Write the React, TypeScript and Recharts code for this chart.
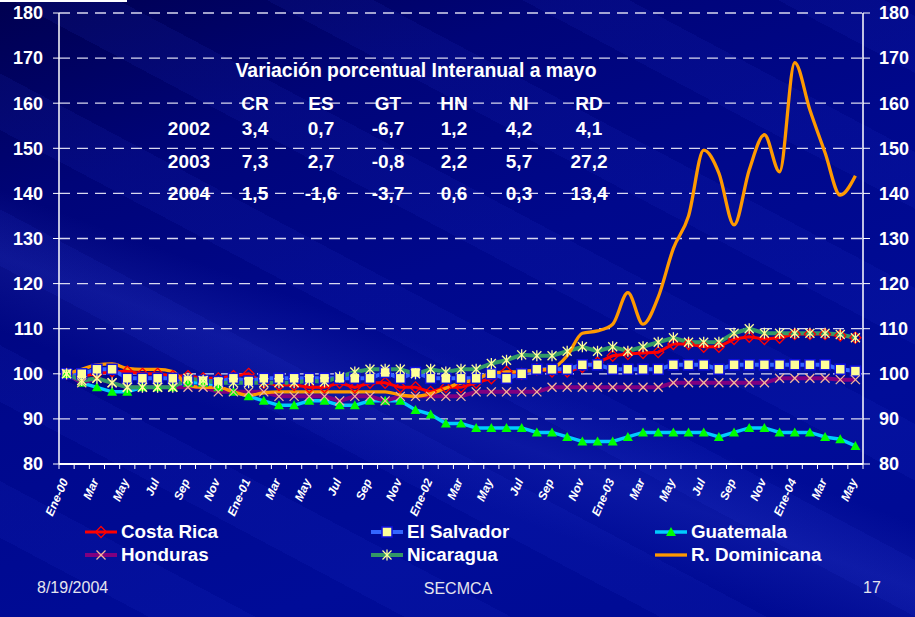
import { LineChart, Line, XAxis, YAxis, CartesianGrid } from 'recharts';

const months = [
  'Ene-00', 'Feb', 'Mar', 'Abr', 'May', 'Jun', 'Jul', 'Ago', 'Sep', 'Oct', 'Nov', 'Dic',
  'Ene-01', 'Feb', 'Mar', 'Abr', 'May', 'Jun', 'Jul', 'Ago', 'Sep', 'Oct', 'Nov', 'Dic',
  'Ene-02', 'Feb', 'Mar', 'Abr', 'May', 'Jun', 'Jul', 'Ago', 'Sep', 'Oct', 'Nov', 'Dic',
  'Ene-03', 'Feb', 'Mar', 'Abr', 'May', 'Jun', 'Jul', 'Ago', 'Sep', 'Oct', 'Nov', 'Dic',
  'Ene-04', 'Feb', 'Mar', 'Abr', 'May',
];

const costaRica = [
  100, 99.5, 100, 100.5, 100.5, 100, 100, 99.5, 99.5, 99, 99, 99.5,
  100, 98, 97.5, 97.5, 97, 97, 98, 97, 98, 98, 97, 97,
  96, 97, 97, 98, 99, 100.5, 100, 101, 100.5, 100.5, 101.5, 102.5,
  104, 104.4, 104.6, 104.8, 106.6, 106.6, 106, 106, 107.7, 108.2, 107.7, 108,
  108.8, 108.8, 108.8, 108.5, 108,
];

const elSalvador = [
  100, 100, 101, 101, 99, 99, 99, 99, 98.5, 98.5, 98.3, 99,
  98.4, 99, 99, 99, 99, 99, 99, 99, 99, 100.3, 99, 100.3,
  99, 99, 99, 99, 100, 99, 100, 101, 101, 101, 102, 102,
  101, 101, 101, 101, 102, 102, 102, 101, 102, 102, 102, 102,
  102, 102, 102, 101, 100.6,
];

const guatemala = [
  100, 98, 97, 96, 96, 97, 97, 97, 98, 98, 97, 96,
  95, 94, 93, 93, 94, 94, 93, 93, 94, 94, 94, 92,
  91, 89, 89, 88, 88, 88, 88, 87, 87, 86, 85, 85,
  85, 86, 87, 87, 87, 87, 87, 86, 87, 88, 88, 87,
  87, 87, 86, 85.5, 84,
];

const honduras = [
  100, 98, 99, 98, 97, 97, 97, 97, 97, 97, 96, 96,
  96, 96, 95, 95, 95, 95, 94, 95, 95, 94, 95, 95,
  95, 95, 95, 96, 96, 96, 96, 96, 97, 97, 97, 97,
  97, 97, 97, 97, 98, 98, 98, 98, 98, 98, 98, 99,
  99, 99, 99, 98.7, 98.7,
];

const nicaragua = [
  100, 98.5, 99, 98, 97, 97, 97, 97, 99, 98.5, 98, 98,
  98, 98, 98, 98, 98.5, 98.2, 99.3, 100.4, 101, 101, 101, 100,
  101, 100.4, 101, 101, 102.3, 103, 104.2, 104, 104, 105, 106, 105,
  106, 105, 106, 107, 108, 107, 107, 107, 109, 110, 109, 109,
  109, 109, 109, 108.7, 108,
];

const rDominicana = [
  100, 101, 102, 102.2, 101.2, 101, 101, 100.5, 97.5, 97, 97, 96,
  95.2, 95.8, 96, 96, 96, 96, 96, 96, 96, 96, 95.3, 95,
  95.6, 96.8, 98, 98.7, 100.2, 100.4, 100.5, 100.8, 101.2, 104, 109, 109.5,
  111, 118, 111, 117, 127.8, 135, 149.6, 144.5, 133, 145.2, 153, 144.8,
  169, 158.5, 149, 139.6, 143.9,
];

const yTicks = [80, 90, 100, 110, 120, 130, 140, 150, 160, 170, 180];

const tableTitle = 'Variación porcentual Interanual a mayo';
const tableCols = ['CR', 'ES', 'GT', 'HN', 'NI', 'RD'];
const tableYears = ['2002', '2003', '2004'];
const tableValues = [
  ['3,4', '0,7', '-6,7', '1,2', '4,2', '4,1'],
  ['7,3', '2,7', '-0,8', '2,2', '5,7', '27,2'],
  ['1,5', '-1,6', '-3,7', '0,6', '0,3', '13,4'],
];

const FONT = '"Liberation Sans", Arial, Helvetica, sans-serif';
const PLOT_W = 804;
const HALF_STEP = PLOT_W / months.length / 2;

type MarkerKind = 'diamond' | 'square' | 'triangle' | 'cross' | 'star' | 'none';

function marker(kind: MarkerKind, cx: number, cy: number) {
  switch (kind) {
    case 'diamond':
      return (
        <polygon
          points={`${cx},${cy - 5.5} ${cx + 5.5},${cy} ${cx},${cy + 5.5} ${cx - 5.5},${cy}`}
          fill="none"
          stroke="#FF0000"
          strokeWidth={1.3}
        />
      );
    case 'square':
      return (
        <rect x={cx - 5} y={cy - 5} width={10} height={10} fill="#FFFF99" stroke="#1010E0" strokeWidth={1.5} />
      );
    case 'triangle':
      return <polygon points={`${cx},${cy - 5} ${cx + 5},${cy + 4} ${cx - 5},${cy + 4}`} fill="#00FF00" />;
    case 'cross':
      return (
        <g stroke="#F4B89A" strokeWidth={1.3}>
          <line x1={cx - 4.5} y1={cy - 4.5} x2={cx + 4.5} y2={cy + 4.5} />
          <line x1={cx - 4.5} y1={cy + 4.5} x2={cx + 4.5} y2={cy - 4.5} />
        </g>
      );
    case 'star':
      return (
        <g stroke="#FFFF99" strokeWidth={1.3}>
          <line x1={cx - 4.5} y1={cy - 4.5} x2={cx + 4.5} y2={cy + 4.5} />
          <line x1={cx - 4.5} y1={cy + 4.5} x2={cx + 4.5} y2={cy - 4.5} />
          <line x1={cx} y1={cy - 5.5} x2={cx} y2={cy + 5.5} />
        </g>
      );
    default:
      return null;
  }
}

const series: { key: string; name: string; color: string; width: number; kind: MarkerKind; values: number[] }[] = [
  { key: 'cr', name: 'Costa Rica', color: '#FF0000', width: 3, kind: 'diamond', values: costaRica },
  { key: 'es', name: 'El Salvador', color: '#3366FF', width: 4, kind: 'square', values: elSalvador },
  { key: 'gt', name: 'Guatemala', color: '#00CCFF', width: 3.5, kind: 'triangle', values: guatemala },
  { key: 'hn', name: 'Honduras', color: '#800080', width: 4, kind: 'cross', values: honduras },
  { key: 'ni', name: 'Nicaragua', color: '#339966', width: 4, kind: 'star', values: nicaragua },
  { key: 'rd', name: 'R. Dominicana', color: '#FF9900', width: 3.3, kind: 'none', values: rDominicana },
];

const data = months.map((m, i) => {
  const row: Record<string, string | number> = { month: m };
  series.forEach((s) => {
    row[s.key] = s.values[i];
  });
  return row;
});

function MonthTick(props: any) {
  const { x, y, payload } = props;
  const i = props.index ?? payload.index;
  const tx = x + 2;
  const ty = y + 17;
  return (
    <g>
      <line x1={x - HALF_STEP} y1={y} x2={x - HALF_STEP} y2={y + 5} stroke="#fff" />
      {i === months.length - 1 && <line x1={x + HALF_STEP} y1={y} x2={x + HALF_STEP} y2={y + 5} stroke="#fff" />}
      {i % 2 === 0 && (
        <text
          x={tx}
          y={ty}
          transform={`rotate(-66, ${tx}, ${ty})`}
          textAnchor="end"
          fill="#fff"
          fontSize={12}
          fontWeight="bold"
          fontStyle="italic"
          fontFamily={FONT}
        >
          {payload.value}
        </text>
      )}
    </g>
  );
}

const legendPos = [
  { x: 85, y: 532 },
  { x: 371, y: 532 },
  { x: 655, y: 532 },
  { x: 85, y: 555 },
  { x: 371, y: 555 },
  { x: 655, y: 555 },
];

const colX = [255, 321, 388, 454, 519, 589];
const rowY = [128, 161, 193];

const textStyle = (x: number, y: number, size: number): React.CSSProperties => ({
  position: 'absolute',
  left: x,
  top: y,
  transform: 'translate(-50%, -50%)',
  color: '#fff',
  fontWeight: 'bold',
  fontSize: size,
  lineHeight: 1,
  whiteSpace: 'nowrap',
});

export default function App() {
  const tickStyle = { fill: '#fff', fontSize: 18, fontWeight: 'bold', fontFamily: FONT };
  return (
    <div
      style={{
        position: 'absolute',
        left: 0,
        top: 0,
        width: 915,
        height: 617,
        overflow: 'hidden',
        fontFamily: FONT,
        background:
          'linear-gradient(200deg, rgba(60,80,255,0) 55%, rgba(90,110,255,0.12) 62%, rgba(60,80,255,0) 70%),' +
          'repeating-linear-gradient(28deg, rgba(40,60,220,0) 0px, rgba(40,60,220,0) 70px, rgba(40,60,220,0.10) 70px, rgba(40,60,220,0.10) 120px),' +
          'linear-gradient(160deg, #000050 0%, #000478 22%, #00088c 45%, #000c98 75%, #000a92 100%)',
      }}
    >
      <div style={{ position: 'absolute', left: 0, top: 0, width: 127, height: 2, background: '#fff' }} />

      <LineChart width={915} height={617} data={data} margin={{ top: 13, right: 0, bottom: 93, left: 0 }}>
        <CartesianGrid horizontal vertical={false} stroke="#d8d8f0" strokeWidth={1.3} strokeDasharray="11 7" />
        <XAxis
          dataKey="month"
          interval={0}
          padding={{ left: HALF_STEP, right: HALF_STEP }}
          height={60}
          tickSize={0}
          tickMargin={0}
          tickLine={false}
          axisLine={{ stroke: '#fff', strokeWidth: 2 }}
          tick={(p: any) => <MonthTick {...p} />}
        />
        <YAxis
          width={59}
          domain={[80, 180]}
          ticks={yTicks}
          interval={0}
          allowDataOverflow
          axisLine={{ stroke: '#fff', strokeWidth: 1.5 }}
          tickLine={{ stroke: '#fff' }}
          tickSize={6}
          tickMargin={10}
          tick={tickStyle}
        />
        <YAxis
          yAxisId="right"
          orientation="right"
          width={52}
          domain={[80, 180]}
          ticks={yTicks}
          interval={0}
          allowDataOverflow
          axisLine={{ stroke: '#fff', strokeWidth: 1.5 }}
          tickLine={{ stroke: '#fff' }}
          tickSize={7}
          tickMargin={9}
          tick={tickStyle}
        />
        {series.map((s) => (
          <Line
            key={s.key}
            type={s.kind === 'none' ? 'monotone' : 'linear'}
            dataKey={s.key}
            stroke={s.color}
            strokeWidth={s.width}
            isAnimationActive={false}
            dot={
              s.kind === 'none'
                ? false
                : (p: any) => (
                    <g key={`${s.key}-${p.index}`}>{marker(s.kind, p.cx, p.cy)}</g>
                  )
            }
            activeDot={false}
          />
        ))}
      </LineChart>

      <div style={textStyle(416, 71, 19.4)}>{tableTitle}</div>
      {tableCols.map((c, j) => (
        <div key={c} style={textStyle(colX[j], 103, 19)}>
          {c}
        </div>
      ))}
      {tableYears.map((yr, r) => (
        <div key={yr}>
          <div style={textStyle(189, rowY[r], 19)}>{yr}</div>
          {tableValues[r].map((v, j) => (
            <div key={j} style={textStyle(colX[j], rowY[r], 19)}>
              {v}
            </div>
          ))}
        </div>
      ))}

      {series.map((s, i) => (
        <div
          key={s.key}
          style={{ position: 'absolute', left: legendPos[i].x, top: legendPos[i].y - 11, height: 22, display: 'flex', alignItems: 'center' }}
        >
          <svg width={32} height={14}>
            <line x1={0} y1={7} x2={32} y2={7} stroke={s.color} strokeWidth={s.width} />
            {marker(s.kind, 16, 7)}
          </svg>
          <span style={{ marginLeft: 4, color: '#fff', fontWeight: 'bold', fontSize: 18.8 }}>{s.name}</span>
        </div>
      ))}

      <div style={{ position: 'absolute', left: 37, top: 580, color: '#e4e4ee', fontSize: 16, lineHeight: 1 }}>8/19/2004</div>
      <div style={{ ...textStyle(458, 589, 16), fontWeight: 'normal', color: '#e4e4ee' }}>SECMCA</div>
      <div style={{ ...textStyle(872, 588, 16), fontWeight: 'normal', color: '#e4e4ee' }}>17</div>
    </div>
  );
}
